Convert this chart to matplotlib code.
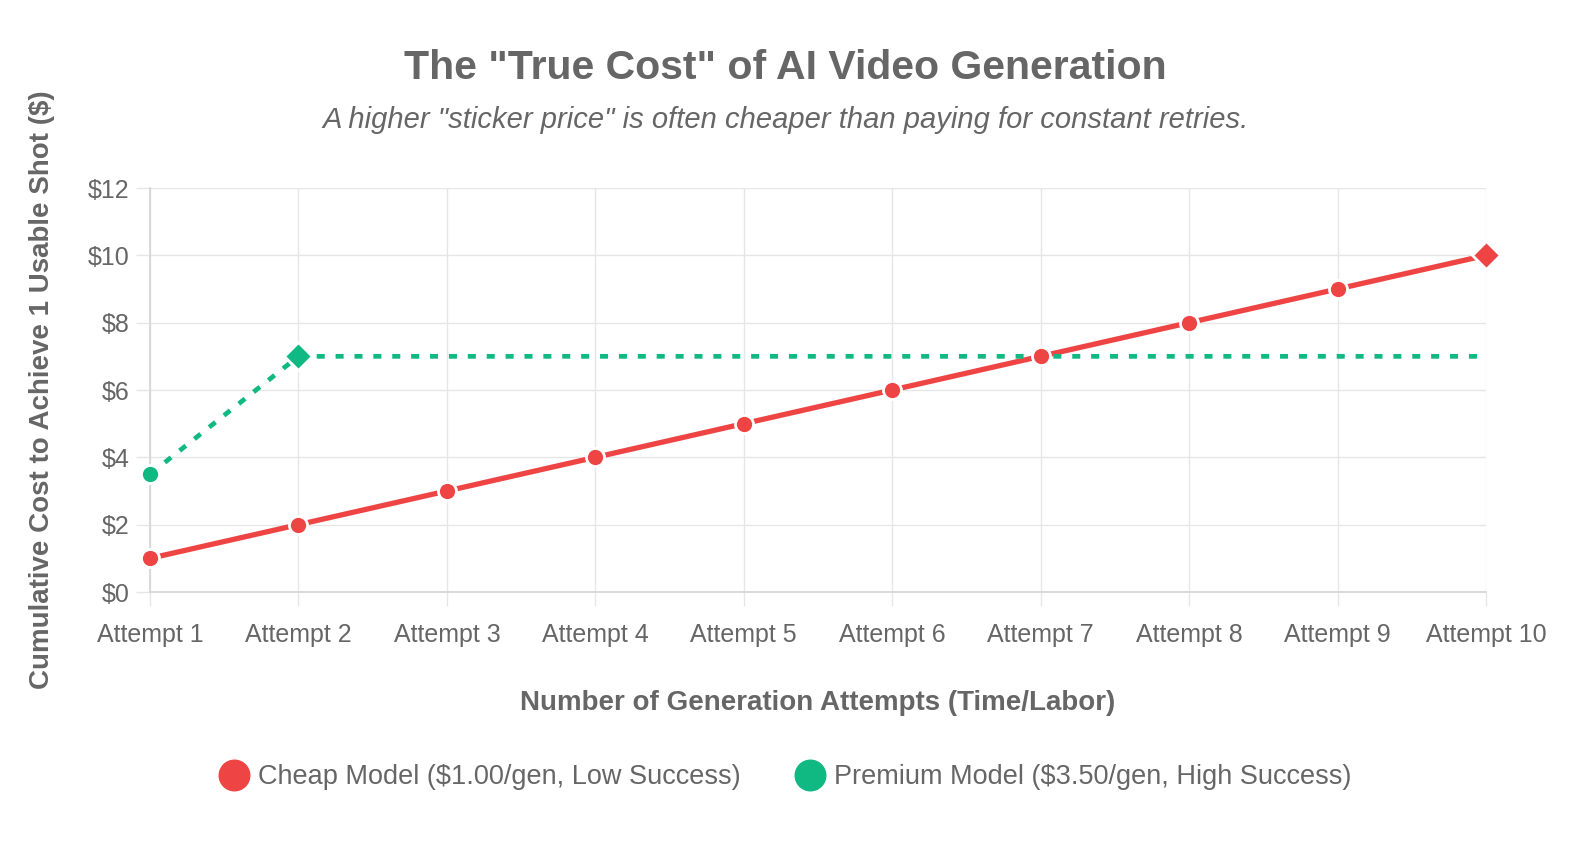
import matplotlib.pyplot as plt
from matplotlib.lines import Line2D

# data
attempts = ["Attempt %d" % i for i in range(1, 11)]
cheap_cost = [1, 2, 3, 4, 5, 6, 7, 8, 9, 10]
premium_cost = [3.5, 7, 7, 7, 7, 7, 7, 7, 7, 7]
y_ticks = [0, 2, 4, 6, 8, 10, 12]

cheap_label = "Cheap Model ($1.00/gen, Low Success)"
premium_label = "Premium Model ($3.50/gen, High Success)"

red = "#ef4444"
green = "#10b981"
text_grey = "#666666"
grid_grey = "#e6e6e6"

plt.rcParams['font.family'] = ['Liberation Sans', 'DejaVu Sans']

fig = plt.figure(figsize=(15.8, 8.42), dpi=100)
ax = fig.add_axes([150 / 1580, 1 - 592 / 842, (1486 - 150) / 1580, (592 - 188) / 842])

x = list(range(len(attempts)))

# lines first, markers on top with white border like chart.js
ax.plot(x, cheap_cost, color=red, lw=3.8, solid_capstyle='butt', zorder=3)
ax.plot(x, premium_cost, color=green, lw=3.4, linestyle=(0, (1.7, 2.3)),
        dash_capstyle='butt', zorder=3)

mk = dict(linestyle='none', mec='white', mew=2, zorder=4, clip_on=False)
ax.plot(x[:-1], cheap_cost[:-1], marker='o', ms=13, mfc=red, **mk)
ax.plot(x[-1:], cheap_cost[-1:], marker='D', ms=14.5, mfc=red, **mk)
ax.plot(x[:1], premium_cost[:1], marker='o', ms=13, mfc=green, **mk)
ax.plot(x[1:2], premium_cost[1:2], marker='D', ms=14.5, mfc=green, **mk)

ax.set_xlim(0, len(attempts) - 1)
ax.set_ylim(0, 12)
ax.set_xticks(x)
ax.set_xticklabels(attempts)
ax.set_yticks(y_ticks)
ax.set_yticklabels(["$%d" % v for v in y_ticks])

ax.grid(True, color=grid_grey, lw=1)
ax.set_axisbelow(True)
for side in ['top', 'right']:
    ax.spines[side].set_visible(False)
for side in ['left', 'bottom']:
    ax.spines[side].set_color('#d4d4d4')
    ax.spines[side].set_linewidth(1.2)
ax.tick_params(axis='both', colors=grid_grey, length=10, width=1,
               labelcolor=text_grey, labelsize=18)
ax.tick_params(axis='x', pad=12)
ax.tick_params(axis='y', pad=5)

ax.set_xlabel("Number of Generation Attempts (Time/Labor)", fontsize=20,
              fontweight='bold', color=text_grey, labelpad=31)
fig.text(42 / 1580, 1 - 390 / 842, "Cumulative Cost to Achieve 1 Usable Shot ($)",
         rotation=90, ha='center', va='center', fontsize=20,
         fontweight='bold', color=text_grey)

fig.text(0.497, 1 - 68 / 842, 'The "True Cost" of AI Video Generation',
         ha='center', va='center', fontsize=29.5, fontweight='bold', color=text_grey)
fig.text(0.497, 1 - 120 / 842,
         'A higher "sticker price" is often cheaper than paying for constant retries.',
         ha='center', va='center', fontsize=21, style='italic', color=text_grey)

handles = [
    Line2D([], [], linestyle='none', marker='o', ms=22, mfc=red, mec=red),
    Line2D([], [], linestyle='none', marker='o', ms=22, mfc=green, mec=green),
]
leg = fig.legend(handles, [cheap_label, premium_label], loc='center',
                 bbox_to_anchor=(0.497, 1 - 777 / 842), ncol=2, frameon=False,
                 fontsize=19.5, handletextpad=0.35, columnspacing=2.0,
                 handlelength=1.1)
for t in leg.get_texts():
    t.set_color(text_grey)

fig.savefig("out.png", dpi=100, facecolor='white')
